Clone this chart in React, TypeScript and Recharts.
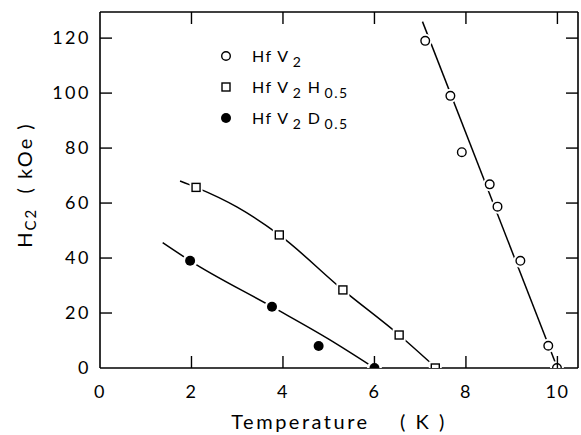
import React from 'react';
import { ComposedChart, Line, Scatter, XAxis, YAxis, Legend, Label } from 'recharts';

const xTicks = [0, 2, 4, 6, 8, 10];
const yTicks = [0, 20, 40, 60, 80, 100, 120];

// measured points
const hfv2Points = [
  { x: 7.11, y: 119 },
  { x: 7.66, y: 99 },
  { x: 7.91, y: 78.5 },
  { x: 8.52, y: 66.8 },
  { x: 8.69, y: 58.7 },
  { x: 9.19, y: 39 },
  { x: 9.8, y: 8.1 },
  { x: 9.99, y: 0 },
];
const hfv2hPoints = [
  { x: 2.1, y: 65.7 },
  { x: 3.92, y: 48.4 },
  { x: 5.31, y: 28.4 },
  { x: 6.54, y: 12 },
  { x: 7.33, y: 0 },
];
const hfv2dPoints = [
  { x: 1.97, y: 39 },
  { x: 3.76, y: 22.3 },
  { x: 4.78, y: 8 },
  { x: 6.0, y: 0 },
];

// drawn guide curves
const hfv2Fit = [
  { x: 7.05, y: 126 },
  { x: 10.0, y: 0 },
];
const hfv2hFit = [
  { x: 1.75, y: 68 },
  { x: 2.1, y: 65.7 },
  { x: 3.0, y: 58.5 },
  { x: 3.92, y: 48.4 },
  { x: 5.31, y: 28.4 },
  { x: 6.54, y: 12 },
  { x: 7.35, y: 0 },
];
const hfv2dFit = [
  { x: 1.37, y: 45.6 },
  { x: 1.97, y: 39 },
  { x: 3.76, y: 22.3 },
  { x: 5.0, y: 10.5 },
  { x: 6.0, y: 0 },
];

const FONT = 'Lato, "Liberation Sans", sans-serif';
const INK = '#000';

const BottomTick = ({ x, y, payload }: any) => (
  <g>
    {payload.value > 0 && <line x1={x} y1={y} x2={x} y2={y - 12} stroke={INK} strokeWidth={1.4} />}
    <text x={x} y={y + 30} textAnchor="middle" fontSize={18} fontFamily={FONT} fill={INK} letterSpacing={1.5}>
      {payload.value}
    </text>
  </g>
);

const LeftTick = ({ x, y, payload }: any) => (
  <g>
    {payload.value > 0 && <line x1={x} y1={y} x2={x + 12} y2={y} stroke={INK} strokeWidth={1.4} />}
    <text x={x - 9} y={y + 6} textAnchor="end" fontSize={18} fontFamily={FONT} fill={INK} letterSpacing={2.5}>
      {payload.value}
    </text>
  </g>
);

const TopTick = ({ x, y }: any) => <line x1={x} y1={y} x2={x} y2={y + 12} stroke={INK} strokeWidth={1.4} />;
const RightTick = ({ x, y }: any) => <line x1={x} y1={y} x2={x - 12} y2={y} stroke={INK} strokeWidth={1.4} />;

const OpenCircle = ({ cx, cy }: any) => (
  <g>
    <circle cx={cx} cy={cy} r={7} fill="#fff" />
    <circle cx={cx} cy={cy} r={4.3} fill="#fff" stroke={INK} strokeWidth={1.4} />
  </g>
);
const OpenSquare = ({ cx, cy }: any) => (
  <g>
    <rect x={cx - 6.5} y={cy - 6.5} width={13} height={13} fill="#fff" />
    <rect x={cx - 4} y={cy - 4} width={8} height={8} fill="#fff" stroke={INK} strokeWidth={1.4} />
  </g>
);
const FilledCircle = ({ cx, cy }: any) => (
  <g>
    <circle cx={cx} cy={cy} r={7.5} fill="#fff" />
    <circle cx={cx} cy={cy} r={5} fill={INK} />
  </g>
);

const sub = { fontSize: 14, position: 'relative' as const, top: 5, marginLeft: 3 };

const LegendBox = () => {
  const rows = [
    { sym: 'circle', text: <>Hf V<span style={sub}>2</span></> },
    { sym: 'square', text: <>Hf V<span style={sub}>2</span> H<span style={sub}>0.5</span></> },
    { sym: 'dot', text: <>Hf V<span style={sub}>2</span> D<span style={sub}>0.5</span></> },
  ];
  return (
    <div style={{ fontFamily: FONT, fontSize: 16, color: INK, letterSpacing: 1.5 }}>
      {rows.map((r, i) => (
        <div key={i} style={{ display: 'flex', alignItems: 'center', height: 31 }}>
          <svg width={14} height={14} style={{ marginRight: 19 }}>
            {r.sym === 'circle' && <circle cx={7} cy={7} r={4.3} fill="#fff" stroke={INK} strokeWidth={1.4} />}
            {r.sym === 'square' && <rect x={3} y={3} width={8} height={8} fill="#fff" stroke={INK} strokeWidth={1.4} />}
            {r.sym === 'dot' && <circle cx={7} cy={7} r={5} fill={INK} />}
          </svg>
          <span>{r.text}</span>
        </div>
      ))}
    </div>
  );
};

const XLabel = ({ viewBox }: any) => (
  <text
    x={viewBox.x + viewBox.width / 2}
    y={viewBox.y + 61}
    textAnchor="middle"
    fontSize={20}
    fontFamily={FONT}
    fill={INK}
    letterSpacing={2.5}
  >
    Temperature{'\u00a0\u00a0\u00a0\u00a0'}( K )
  </text>
);

const YLabel = ({ viewBox }: any) => {
  const cx = 27;
  const cy = viewBox.y + viewBox.height / 2 - 5;
  return (
    <text
      x={cx}
      y={cy}
      transform={`rotate(-90 ${cx} ${cy})`}
      textAnchor="middle"
      fontSize={20}
      fontFamily={FONT}
      fill={INK}
      letterSpacing={2}
      dominantBaseline="middle"
    >
      H
      <tspan fontSize={15} dy={5}>C2</tspan>
      <tspan dy={-5}>{'\u00a0\u00a0'}( kOe )</tspan>
    </text>
  );
};

export default function App() {
  return (
    <div style={{ position: 'absolute', left: 0, top: 0, background: '#fff' }}>
      <style>{'body{margin:0;background:#fff}'}</style>
      <ComposedChart width={581} height={435} margin={{ top: 10, right: 1, bottom: 12, left: 30 }}>
        <XAxis
          dataKey="x"
          type="number"
          domain={[0, 10.45]}
          ticks={xTicks}
          interval={0}
          allowDataOverflow
          tickSize={0}
          tickMargin={0}
          tickLine={false}
          height={55}
          axisLine={{ stroke: INK, strokeWidth: 1.6 }}
          tick={(p: any) => <BottomTick {...p} />}
        >
          <Label content={<XLabel />} />
        </XAxis>
        <XAxis
          xAxisId="top"
          dataKey="x"
          orientation="top"
          type="number"
          domain={[0, 10.45]}
          ticks={[2, 4, 6, 8, 10]}
          interval={0}
          allowDataOverflow
          tickSize={0}
          tickMargin={0}
          tickLine={false}
          height={2}
          axisLine={{ stroke: INK, strokeWidth: 1.6 }}
          tick={(p: any) => <TopTick {...p} />}
        />
        <YAxis
          type="number"
          domain={[0, 129.5]}
          ticks={yTicks}
          interval={0}
          allowDataOverflow
          tickSize={0}
          tickMargin={0}
          tickLine={false}
          width={70}
          axisLine={{ stroke: INK, strokeWidth: 1.6 }}
          tick={(p: any) => <LeftTick {...p} />}
        >
          <Label content={<YLabel />} />
        </YAxis>
        <YAxis
          yAxisId="right"
          orientation="right"
          type="number"
          domain={[0, 129.5]}
          ticks={[20, 40, 60, 80, 100, 120]}
          interval={0}
          allowDataOverflow
          tickSize={0}
          tickMargin={0}
          tickLine={false}
          width={2}
          axisLine={{ stroke: INK, strokeWidth: 1.6 }}
          tick={(p: any) => <RightTick {...p} />}
        />
        <Legend
          layout="vertical"
          align="center"
          verticalAlign="middle"
          content={<LegendBox />}
          wrapperStyle={{ position: 'absolute', left: 219, top: 40, width: 200, height: 'auto' }}
        />
        <Line data={hfv2Fit} dataKey="y" type="linear" stroke={INK} strokeWidth={1.5} dot={false} activeDot={false} isAnimationActive={false} legendType="none" />
        <Line data={hfv2hFit} dataKey="y" type="monotone" stroke={INK} strokeWidth={1.5} dot={false} activeDot={false} isAnimationActive={false} legendType="none" />
        <Line data={hfv2dFit} dataKey="y" type="monotone" stroke={INK} strokeWidth={1.5} dot={false} activeDot={false} isAnimationActive={false} legendType="none" />
        <Scatter name="HfV2" data={hfv2Points} dataKey="y" shape={(p: any) => <OpenCircle {...p} />} isAnimationActive={false} />
        <Scatter name="HfV2H0.5" data={hfv2hPoints} dataKey="y" shape={(p: any) => <OpenSquare {...p} />} isAnimationActive={false} />
        <Scatter name="HfV2D0.5" data={hfv2dPoints} dataKey="y" shape={(p: any) => <FilledCircle {...p} />} isAnimationActive={false} />
      </ComposedChart>
    </div>
  );
}
